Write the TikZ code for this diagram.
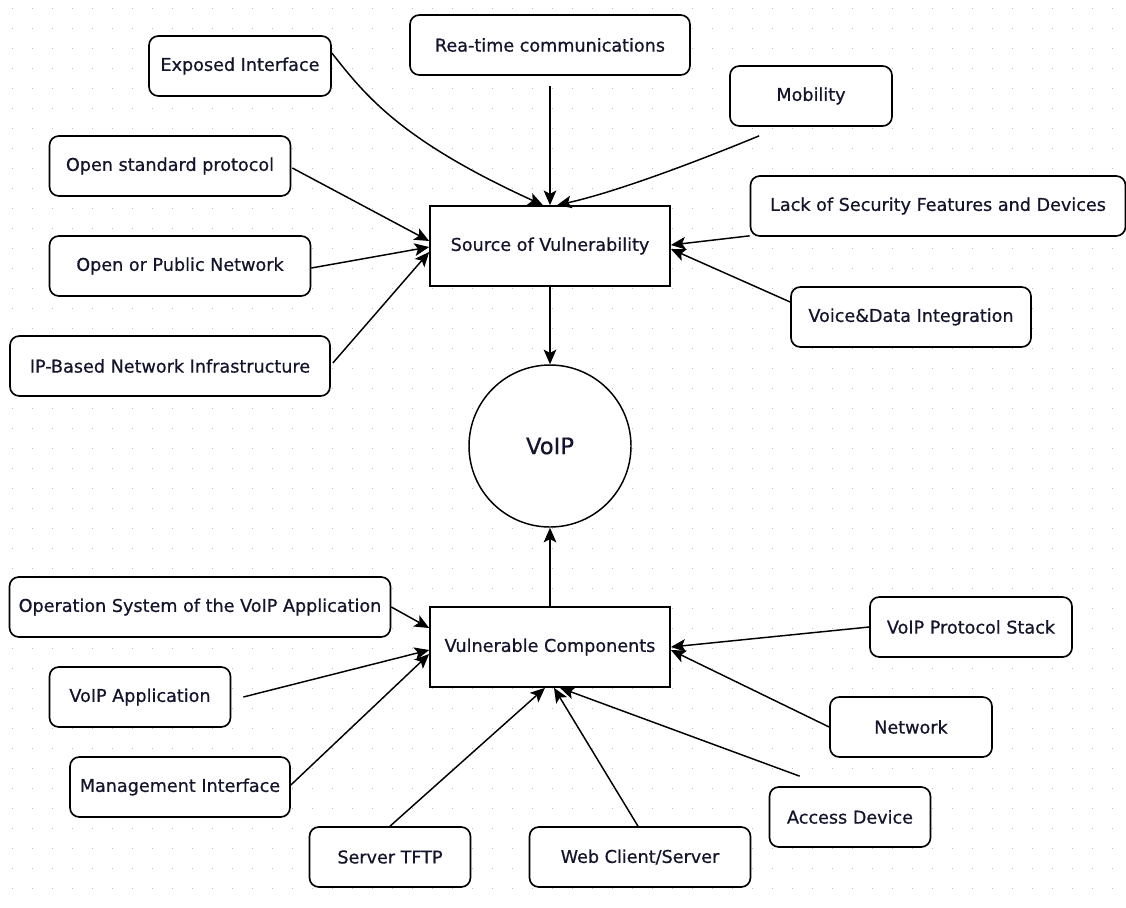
\documentclass[tikz,border=0pt]{standalone}
\usepackage{fontspec}
\setmainfont{DejaVu Sans}[FakeBold=0.6]
\usetikzlibrary{arrows.meta,calc}
\definecolor{dotc}{RGB}{190,190,190}
\definecolor{ink}{RGB}{20,20,45}
\begin{document}
\begin{tikzpicture}[x=0.75pt,y=-0.75pt,
  box/.style={draw=black, line width=1.25pt, fill=white, rounded corners=7pt,
    minimum height=45pt, inner sep=0pt, text=ink, font=\fontsize{13.2}{15}\selectfont},
  rectbox/.style={draw=black, line width=1.25pt, fill=white, minimum height=60pt,
    minimum width=180pt, inner sep=0pt, text=ink, font=\fontsize{13.2}{15}\selectfont},
  wpx/.style={minimum width=#1*0.75pt},
  link/.style={line width=1.1pt, -{Stealth[length=11pt,width=9.5pt,inset=2.5pt]}},
]
% page and dotted grid
\fill[white] (0,0) rectangle (1126,907);
\useasboundingbox (0,0) rectangle (1126,907);
\foreach \i in {0,...,55}{
  \foreach \j in {0,...,44}{
    \fill[dotc] (12+20*\i,8+20*\j) rectangle +(1.3,1.3);
  }
}

% central elements
\node[rectbox] (src) at (550,246) {Source of Vulnerability};
\node[rectbox] (vulc) at (550,647) {Vulnerable Components};
\node[draw=black, circle, line width=1.1pt, fill=white, minimum size=162*0.75pt,
  inner sep=0pt, text=ink, font=\fontsize{17}{20}\selectfont] (voip) at (550,446) {VoIP};

% sources of vulnerability
\node[box, wpx=182] (expo) at (240,66) {Exposed Interface};
\node[box, wpx=280] (rt) at (550,45) {Rea-time communications};
\node[box, wpx=162] (mob) at (811,96) {Mobility};
\node[box, wpx=241] (ostd) at (170,166) {Open standard protocol};
\node[box, wpx=375] (lack) at (938,206) {Lack of Security Features and Devices};
\node[box, wpx=261] (opub) at (180,266) {Open or Public Network};
\node[box, wpx=240] (voice) at (911,317) {Voice\&Data Integration};
\node[box, wpx=320] (ipb) at (170,366) {IP-Based Network Infrastructure};

% vulnerable components
\node[box, wpx=381] (osys) at (200,607) {Operation System of the VoIP Application};
\node[box, wpx=202] (vps) at (971,627) {VoIP Protocol Stack};
\node[box, wpx=181] (vapp) at (140,697) {VoIP Application};
\node[box, wpx=162] (net) at (911,727) {Network};
\node[box, wpx=220] (mgmt) at (180,787) {Management Interface};
\node[box, wpx=161] (acc) at (850,817) {Access Device};
\node[box, wpx=161] (tftp) at (390,857) {Server TFTP};
\node[box, wpx=221] (web) at (640,857) {Web Client/Server};

% connectors into the source of vulnerability
\draw[link] ($(expo.east)+(0,-13)$) .. controls (365,95) and (400,140) .. ($(src.north)+(-7,0)$);
\draw[link] ($(rt.south)+(0,10)$) -- (src.north);
\draw[link] ($(mob.south west)+(30,9)$) .. controls (720,152) and (625,190) .. ($(src.north)+(7,0)$);
\draw[link] ($(ostd.east)+(1,2)$) -- ($(src.west)+(0,-5)$);
\draw[link] ($(opub.east)+(0,2)$) -- ($(src.west)+(0,1)$);
\draw[link] ($(ipb.east)+(2,-3)$) -- ($(src.west)+(0,6)$);
\draw[link] ($(lack.south west)+(0,-1)$) -- ($(src.east)+(0,-1)$);
\draw[link] ($(voice.west)+(0,-15)$) -- ($(src.east)+(0,3)$);

% into and out of VoIP
\draw[link] (src.south) -- (voip.north);
\draw[link] (vulc.north) -- (voip.south);

% connectors into the vulnerable components
\draw[link] (osys.east) -- ($(vulc.west)+(0,-19)$);
\draw[link] ($(vapp.east)+(12,0)$) -- ($(vulc.west)+(0,3)$);
\draw[link] ($(mgmt.east)+(0,-2)$) -- ($(vulc.west)+(0,7)$);
\draw[link] (tftp.north) -- ($(vulc.south)+(-5,0)$);
\draw[link] ($(web.north)+(-2,0)$) -- ($(vulc.south)+(4,0)$);
\draw[link] ($(acc.north west)+(31,-10)$) -- ($(vulc.south)+(10,0)$);
\draw[link] (vps.west) -- (vulc.east);
\draw[link] (net.west) -- ($(vulc.east)+(0,3)$);
\end{tikzpicture}
\end{document}
